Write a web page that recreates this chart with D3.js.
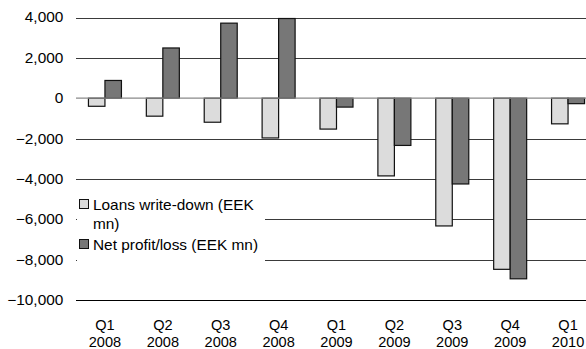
<!DOCTYPE html>
<html>
<head>
<meta charset="utf-8">
<script src="https://cdn.jsdelivr.net/npm/d3@7/dist/d3.min.js"></script>
<style>
  html, body { margin: 0; padding: 0; background: #fff; }
  svg { display: block; }
  text { font-family: "Liberation Sans", Arial, sans-serif; font-size: 14px; fill: #000; }
</style>
</head>
<body>
<svg id="chart" width="586" height="349"></svg>
<script>
// Quarters, two-line tick labels
const quarters = ["Q1", "Q2", "Q3", "Q4", "Q1", "Q2", "Q3", "Q4", "Q1"];
const years = ["2008", "2008", "2008", "2008", "2009", "2009", "2009", "2009", "2010"];
const categories = quarters.map((q, i) => q + " " + years[i]);

// Series values, EEK mn
const seriesNames = ["Loans write-down (EEK mn)", "Net profit/loss (EEK mn)"];
const loansWriteDown = [-400, -890, -1190, -1970, -1530, -3850, -6330, -8480, -1270];
const netProfitLoss = [880, 2490, 3720, 3950, -440, -2340, -4250, -8950, -270];

const yTicks = [4000, 2000, 0, -2000, -4000, -6000, -8000, -10000];

const svg = d3.select("#chart");
const plotLeft = 76, plotRight = 597, plotTop = 17.5, plotBottom = 300;
const stretch = 1.1; // slightly wide lettering

const x0 = d3.scaleBand().domain(categories).range([plotLeft, plotRight])
  .paddingInner(0.43).paddingOuter(0.215);
const x1 = d3.scaleBand().domain([0, 1]).range([0, x0.bandwidth()]);
const y = d3.scaleLinear().domain([-10000, 4000]).range([plotBottom, plotTop]);
const fmt = d3.format(",");

// Horizontal gridlines
const grid = svg.append("g");
grid.selectAll("line").data(yTicks.filter(d => d !== 0 && d !== -10000)).join("line")
  .attr("x1", plotLeft).attr("x2", 586)
  .attr("y1", d => Math.round(y(d)) + 0.5).attr("y2", d => Math.round(y(d)) + 0.5)
  .attr("stroke", "#3a3a3a").attr("stroke-width", 1.2);
grid.append("line")
  .attr("x1", plotLeft).attr("x2", 586)
  .attr("y1", Math.round(y(-10000)) + 0.5).attr("y2", Math.round(y(-10000)) + 0.5)
  .attr("stroke", "#000").attr("stroke-width", 1.2);

// Y axis labels
const yAxis = d3.axisLeft(y).tickValues(yTicks).tickFormat(fmt).tickSize(0).tickPadding(12);
const ya = svg.append("g").attr("transform", `translate(${plotLeft},0)`).call(yAxis);
ya.select(".domain").remove();
ya.selectAll("text")
  .style("font-family", "Liberation Sans, Arial, sans-serif").style("font-size", "14px")
  .attr("fill", "#000")
  .attr("x", -12.7 / stretch)
  .attr("transform", `scale(${stretch},1)`);

// Bars
const data = categories.map((c, i) => ({ c, vals: [loansWriteDown[i], netProfitLoss[i]] }));
const fills = ["#dcdcdc", "#777777"];
const groups = svg.append("g").selectAll("g").data(data).join("g")
  .attr("transform", d => `translate(${x0(d.c)},0)`);
groups.selectAll("rect").data(d => d.vals.map((v, k) => ({ v, k }))).join("rect")
  .attr("x", d => x1(d.k))
  .attr("width", x1.bandwidth())
  .attr("y", d => y(Math.max(0, d.v)))
  .attr("height", d => Math.abs(y(d.v) - y(0)))
  .attr("fill", d => fills[d.k])
  .attr("stroke", "#111").attr("stroke-width", 1.2);

// Zero line
svg.append("line")
  .attr("x1", plotLeft).attr("x2", 586)
  .attr("y1", y(0)).attr("y2", y(0))
  .attr("stroke", "#8a8a8a").attr("stroke-width", 1.3);

// X axis labels
const xa = svg.append("g");
const rows = [quarters, years];
const baselines = [330, 347];
rows.forEach((row, r) => {
  xa.selectAll(null).data(categories).join("text")
    .attr("text-anchor", "middle")
    .attr("transform", d => `translate(${x0(d) + x0.bandwidth() / 2},${baselines[r]}) scale(1.04,1)`)
    .text((d, i) => row[i]);
});

// Legend
const lg = svg.append("g");
lg.append("rect").attr("x", plotLeft + 1).attr("y", 188).attr("width", 188).attr("height", 76).attr("fill", "#fff");
const items = [
  { lines: ["Loans write-down (EEK", "mn)"], y: 210, fill: fills[0] },
  { lines: ["Net profit/loss (EEK mn)"], y: 250, fill: fills[1] }
];
items.forEach(it => {
  lg.append("rect").attr("x", 79.5).attr("y", it.y - 10.5).attr("width", 9).attr("height", 9)
    .attr("fill", it.fill).attr("stroke", "#111").attr("stroke-width", 1);
  it.lines.forEach((t, j) => {
    lg.append("text")
      .attr("transform", `translate(93,${it.y + j * 19}) scale(${stretch},1)`)
      .text(t);
  });
});
</script>
</body>
</html>
